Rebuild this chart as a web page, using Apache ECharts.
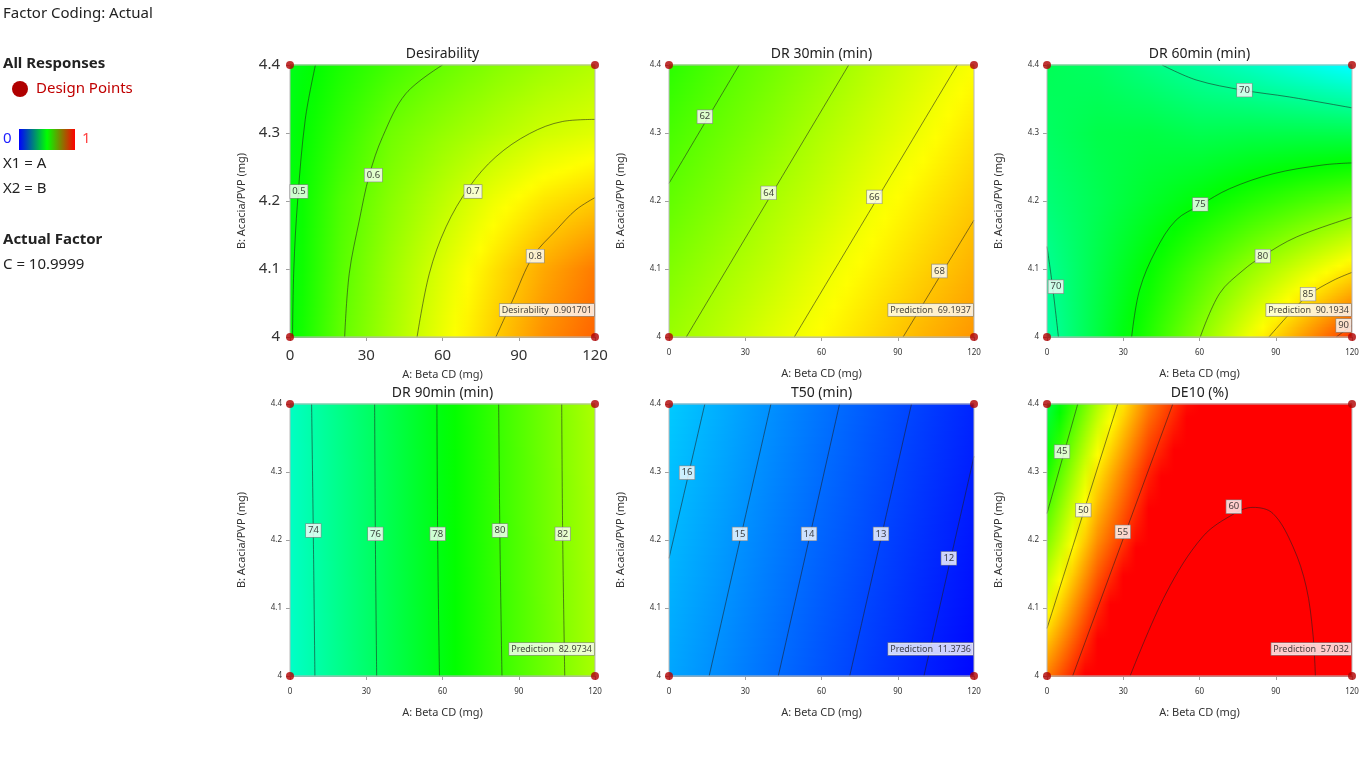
<!DOCTYPE html>
<html>
<head>
<meta charset="utf-8">
<title>Factor Coding: Actual</title>
<script src="https://cdn.jsdelivr.net/npm/echarts@6/dist/echarts.min.js"></script>
<style>
  html, body { margin: 0; padding: 0; background: #fff; }
  #chart { width: 1366px; height: 768px; }
</style>
</head>
<body>
<div id="chart"></div>
<script>
const FONT = '"Noto Sans", sans-serif'

const xs = [0, 20, 40, 60, 80, 100, 120]
const ys = [4.0, 4.1, 4.2, 4.3, 4.4]
const designPoints = [[0, 4], [0, 4.4], [120, 4], [120, 4.4]]

// Desirability
const desirValues = [
  [0.495, 0.595, 0.665, 0.733, 0.797, 0.860, 0.902],
  [0.490, 0.585, 0.655, 0.717, 0.777, 0.835, 0.880],
  [0.488, 0.575, 0.635, 0.685, 0.735, 0.775, 0.800],
  [0.484, 0.550, 0.610, 0.645, 0.675, 0.703, 0.720],
  [0.476, 0.525, 0.565, 0.600, 0.630, 0.655, 0.675]
]
const desirContours = [
  [[10, 4.4], [6, 4.32], [3, 4.2], [1.5, 4.1], [1, 4.0]],
  [[21.5, 4.0], [23.3, 4.093], [27.3, 4.172], [31.2, 4.238], [36.5, 4.295], [45.6, 4.358], [60, 4.4]],
  [[50, 4.0], [54.8, 4.093], [61.4, 4.162], [70.6, 4.221], [81, 4.265], [94.2, 4.299], [107.3, 4.317], [120, 4.32]],
  [[81, 4.0], [87.6, 4.054], [95.5, 4.118], [104.7, 4.157], [112.5, 4.187], [120, 4.205]]
]
const desirLabels = [[3.5, 4.214, '0.5'], [32.8, 4.238, '0.6'], [72, 4.214, '0.7'], [96.5, 4.119, '0.8']]

// DR 30min
const dr30Values = [
  [63.7, 64.6, 65.6, 66.5, 67.4, 68.4, 69.2],
  [63.0, 63.9, 64.8, 65.8, 66.7, 67.6, 68.5],
  [62.2, 63.1, 64.1, 65.0, 66.0, 66.9, 67.8],
  [61.5, 62.4, 63.3, 64.3, 65.2, 66.1, 67.1],
  [60.7, 61.7, 62.6, 63.5, 64.5, 65.4, 66.3]
]
const dr30Contours = [
  [[0, 4.226], [27.6, 4.4]],
  [[6.8, 4.0], [70.7, 4.4]],
  [[49.3, 4.0], [113.4, 4.4]],
  [[92.1, 4.0], [120, 4.172]]
]
const dr30Labels = [[14.1, 4.324, '62'], [39.2, 4.212, '64'], [80.8, 4.206, '66'], [106.4, 4.097, '68']]

// DR 60min
const dr60Values = [
  [69.2, 72.7, 76.2, 79.9, 83.6, 87.4, 91.0],
  [69.8, 72.4, 75.0, 77.7, 80.3, 82.6, 84.9],
  [70.8, 72.1, 73.5, 74.8, 76.2, 77.4, 78.5],
  [71.5, 72.4, 72.6, 72.2, 72.4, 72.4, 72.3],
  [72.0, 71.5, 70.4, 69.3, 68.2, 67.0, 65.8]
]
const dr60Contours = [
  [[45.3, 4.4], [58.7, 4.378], [77.1, 4.363], [95.4, 4.353], [120, 4.337]],
  [[0, 4.133], [2.2, 4.074], [4.5, 4.0]],
  [[33.3, 4.0], [36.4, 4.069], [42.9, 4.128], [50.8, 4.172], [60.3, 4.194], [71.8, 4.218], [88.9, 4.24], [108.6, 4.253], [120, 4.256]],
  [[60.3, 4.0], [67.9, 4.064], [77.1, 4.098], [84.9, 4.119], [98.1, 4.147], [120, 4.176]],
  [[87.3, 4.0], [95.4, 4.034], [102.7, 4.061], [112.5, 4.083], [120, 4.095]],
  [[113.8, 4.0], [120, 4.017]]
]
const dr60Labels = [[77.7, 4.363, '70'], [3.5, 4.074, '70'], [60.3, 4.195, '75'], [84.9, 4.119, '80'], [102.7, 4.063, '85'], [116.7, 4.017, '90']]

// DR 90min
const dr90Values = [
  [73.2, 74.85, 76.45, 78.1, 79.75, 81.35, 82.97],
  [73.25, 74.87, 76.47, 78.12, 79.77, 81.37, 82.98],
  [73.3, 74.9, 76.5, 78.15, 79.8, 81.4, 83.0],
  [73.3, 74.9, 76.5, 78.17, 79.82, 81.42, 83.02],
  [73.35, 74.95, 76.55, 78.2, 79.85, 81.45, 83.05]
]
const dr90Contours = [
  [[8.5, 4.4], [9.2, 4.2], [9.8, 4.0]],
  [[33.3, 4.4], [33.6, 4.2], [34.1, 4.0]],
  [[57.8, 4.4], [58.1, 4.2], [58.8, 4.0]],
  [[82.1, 4.4], [82.6, 4.2], [83.4, 4.0]],
  [[106.9, 4.4], [107.3, 4.2], [108.1, 4.0]]
]
const dr90Labels = [[9.2, 4.214, '74'], [33.6, 4.209, '76'], [58.1, 4.209, '78'], [82.6, 4.214, '80'], [107.3, 4.209, '82']]

// T50
const t50Values = [
  [15.56, 14.85, 14.11, 13.39, 12.70, 12.01, 11.37],
  [15.80, 15.08, 14.33, 13.60, 12.91, 12.22, 11.57],
  [16.04, 15.31, 14.55, 13.82, 13.12, 12.43, 11.77],
  [16.28, 15.55, 14.78, 14.04, 13.33, 12.64, 11.97],
  [16.52, 15.78, 15.00, 14.26, 13.54, 12.84, 12.15]
]
const t50Contours = [
  [[0, 4.173], [14.1, 4.4]],
  [[15.8, 4.0], [40.1, 4.4]],
  [[43, 4.0], [67.1, 4.4]],
  [[71.1, 4.0], [95.4, 4.4]],
  [[100.3, 4.0], [120, 4.323]]
]
const t50Labels = [[7.1, 4.299, '16'], [27.9, 4.209, '15'], [55.1, 4.209, '14'], [83.4, 4.209, '13'], [110.1, 4.173, '12']]

// DE10
const de10Values = [
  [52.8, 57.2, 61.2, 63.2, 63.4, 61.2, 57.0],
  [49.3, 55.0, 59.6, 61.5, 62.0, 60.6, 57.6],
  [46.2, 52.4, 56.8, 59.7, 60.7, 59.7, 57.6],
  [43.6, 50.2, 55.1, 58.2, 59.4, 59.2, 57.5],
  [41.1, 47.5, 52.8, 56.6, 58.5, 58.6, 57.3]
]
const de10Contours = [
  [[0, 4.239], [12.1, 4.4]],
  [[0, 4.07], [27.8, 4.4]],
  [[10.1, 4.0], [49.5, 4.4]],
  [[32.7, 4.0], [46.9, 4.122], [61.3, 4.205], [73.8, 4.239], [81, 4.248], [88.9, 4.239], [96.8, 4.19], [102, 4.131], [104.6, 4.063], [105.6, 4.0]]
]
const de10Labels = [[5.9, 4.33, '45'], [14.3, 4.244, '50'], [29.8, 4.212, '55'], [73.5, 4.249, '60']]

const panels = [
  { title: 'Desirability', values: desirValues, contours: desirContours, labels: desirLabels, lo: 0, hi: 1, pred: 'Desirability  0.901701', big: true },
  { title: 'DR 30min (min)', values: dr30Values, contours: dr30Contours, labels: dr30Labels, lo: 46, hi: 73.2, pred: 'Prediction  69.1937' },
  { title: 'DR 60min (min)', values: dr60Values, contours: dr60Contours, labels: dr60Labels, lo: 57, hi: 93, pred: 'Prediction  90.1934' },
  { title: 'DR 90min (min)', values: dr90Values, contours: dr90Contours, labels: dr90Labels, lo: 65, hi: 92, pred: 'Prediction  82.9734' },
  { title: 'T50 (min)', values: t50Values, contours: t50Contours, labels: t50Labels, lo: 11.2, hi: 38, pred: 'Prediction  11.3736' },
  { title: 'DE10 (%)', values: de10Values, contours: de10Contours, labels: de10Labels, lo: 30, hi: 56, pred: 'Prediction  57.032' }
]

const lefts = [290, 669, 1047]
const tops = [65, 404]
const W = 305
const H = 272

// blue - cyan - green - yellow - red
const rampStops = [[0, 0, 255], [0, 255, 255], [0, 255, 0], [255, 255, 0], [255, 0, 0]]
function ramp(t) {
  t = Math.max(0, Math.min(1, t)) * (rampStops.length - 1)
  const i = Math.min(Math.floor(t), rampStops.length - 2)
  const f = t - i
  const a = rampStops[i]; const b = rampStops[i + 1]
  const c = a.map((v, k) => Math.round(v + (b[k] - v) * f))
  return 'rgb(' + c.join(',') + ')'
}

// paints the band between row j and row j+1 with thin horizontal gradient strips
function fieldRenderer(vals, lo, hi) {
  return function(params, api) {
    const j = api.value(0)
    const rowA = vals[j]; const rowB = vals[j + 1]
    const pA = api.coord([xs[0], ys[j]])
    const pB = api.coord([xs[xs.length - 1], ys[j + 1]])
    const left = pA[0]; const right = pB[0]
    const bottom = pA[1]; const top = pB[1]
    const h = bottom - top
    const n = Math.ceil(h / 1.5)
    const span = xs[xs.length - 1] - xs[0]
    const children = []
    for (let k = 0; k < n; k++) {
      const t = (k + 0.5) / n
      const stops = []
      for (let i = 0; i < xs.length - 1; i++) {
        const v0 = rowA[i] + (rowB[i] - rowA[i]) * t
        const v1 = rowA[i + 1] + (rowB[i + 1] - rowA[i + 1]) * t
        const sub = (i === xs.length - 2) ? 4 : 3
        for (let s = 0; s <= sub; s++) {
          const u = s / 4
          const v = v0 + (v1 - v0) * u
          stops.push({ offset: (xs[i] + (xs[i + 1] - xs[i]) * u - xs[0]) / span, color: ramp((v - lo) / (hi - lo)) })
        }
      }
      const yTop = bottom - h * (k + 1) / n
      const yBot = bottom - h * k / n
      children.push({
        type: 'rect',
        shape: { x: left, y: yTop - 0.4, width: right - left, height: yBot - yTop + 0.8 },
        style: { fill: new echarts.graphic.LinearGradient(0, 0, 1, 0, stops) }
      })
    }
    return { type: 'group', children: children }
  }
}

const grids = []; const xAxes = []; const yAxes = []; const series = []; const graphics = []

panels.forEach((p, idx) => {
  const left = lefts[idx % 3]
  const top = tops[Math.floor(idx / 3)]
  grids.push({ left: left, top: top, width: W, height: H, show: true, z: 10, backgroundColor: 'transparent', borderColor: '#b8b8b8', borderWidth: 1 })
  const tickFont = p.big ? 15 : 8
  xAxes.push({
    gridIndex: idx, type: 'value', min: 0, max: 120, interval: 30,
    name: 'A: Beta CD (mg)', nameLocation: 'middle', nameGap: p.big ? 32 : 31,
    nameTextStyle: { fontSize: 11, color: '#333', fontFamily: FONT },
    axisLine: { show: true, lineStyle: { color: '#a0a0a0' } },
    axisTick: { show: true, length: 4, lineStyle: { color: '#a0a0a0' } },
    axisLabel: { fontSize: tickFont, color: '#333', fontFamily: FONT, margin: p.big ? 11 : 12 },
    splitLine: { show: false }
  })
  yAxes.push({
    gridIndex: idx, type: 'value', min: 4, max: 4.4, interval: 0.1,
    name: 'B: Acacia/PVP (mg)', nameLocation: 'middle', nameGap: 43,
    nameTextStyle: { fontSize: 11, color: '#333', fontFamily: FONT },
    axisLine: { show: true, lineStyle: { color: '#a0a0a0' } },
    axisTick: { show: true, length: 4, lineStyle: { color: '#a0a0a0' } },
    axisLabel: { fontSize: tickFont, color: '#333', fontFamily: FONT, margin: p.big ? 10 : 8,
      formatter: v => String(Math.round(v * 10) / 10) },
    splitLine: { show: false }
  })
  graphics.push({
    type: 'text', x: left + W / 2, y: top - 11,
    style: { text: p.title, fontSize: 14, fontFamily: FONT, fill: '#222', align: 'center', verticalAlign: 'middle' }
  })

  series.push({
    type: 'custom', xAxisIndex: idx, yAxisIndex: idx, silent: true,
    renderItem: fieldRenderer(p.values, p.lo, p.hi),
    data: ys.slice(0, -1).map((y, j) => [j])
  })
  p.contours.forEach(c => {
    series.push({
      type: 'line', xAxisIndex: idx, yAxisIndex: idx, silent: true,
      data: c, symbol: 'none', smooth: 0.35,
      lineStyle: { color: 'rgba(30,30,30,0.8)', width: 0.7 }
    })
  })
  series.push({
    type: 'scatter', xAxisIndex: idx, yAxisIndex: idx, silent: true,
    data: p.labels, symbolSize: 0, z: 11,
    label: {
      show: true, position: 'inside', formatter: d => d.value[2],
      fontSize: 9.5, fontFamily: FONT, color: '#111',
      backgroundColor: '#fff', borderColor: '#888', borderWidth: 0.7, padding: [2, 2, 1, 2]
    }
  })
  series.push({
    type: 'scatter', xAxisIndex: idx, yAxisIndex: idx, silent: true,
    data: [[120, 4, p.pred]], symbolSize: 0, z: 11,
    label: {
      show: true, position: 'left', distance: 1, offset: [0, -27],
      formatter: d => d.value[2],
      fontSize: 9, fontFamily: FONT, color: '#111',
      backgroundColor: '#fff', borderColor: '#888', borderWidth: 0.7, padding: [2, 2, 1, 2]
    }
  })
  series.push({
    type: 'scatter', xAxisIndex: idx, yAxisIndex: idx, silent: true,
    data: designPoints, symbolSize: 8, z: 12,
    itemStyle: { color: '#b00000' }
  })
})

const txt = (text, x, y, opt) => Object.assign({
  type: 'text', x: x, y: y,
  style: Object.assign({ text: text, fontSize: 15, fontFamily: FONT, fill: '#222', verticalAlign: 'middle' }, opt || {})
})

graphics.push(
  txt('Factor Coding: Actual', 3, 14),
  txt('All Responses', 3, 64, { fontWeight: 'bold' }),
  { type: 'circle', shape: { cx: 20, cy: 89, r: 8 }, style: { fill: '#b00000' } },
  txt('Design Points', 36, 89, { fill: '#c00000' }),
  txt('0', 3, 139, { fill: '#2020ff' }),
  {
    type: 'rect', shape: { x: 19, y: 129, width: 56, height: 21 },
    style: {
      fill: new echarts.graphic.LinearGradient(0, 0, 1, 0, [
        { offset: 0, color: '#0000ff' }, { offset: 0.5, color: '#00ff00' }, { offset: 1, color: '#ff0000' }
      ])
    }
  },
  txt('1', 82, 139, { fill: '#ff4040' }),
  txt('X1 = A', 3, 164),
  txt('X2 = B', 3, 189),
  txt('Actual Factor', 3, 240, { fontWeight: 'bold' }),
  txt('C = 10.9999', 3, 265)
)

const chart = echarts.init(document.getElementById('chart'))
chart.setOption({
  animation: false,
  backgroundColor: '#fff',
  textStyle: { fontFamily: FONT },
  grid: grids,
  xAxis: xAxes,
  yAxis: yAxes,
  series: series,
  graphic: graphics
})
</script>
</body>
</html>
